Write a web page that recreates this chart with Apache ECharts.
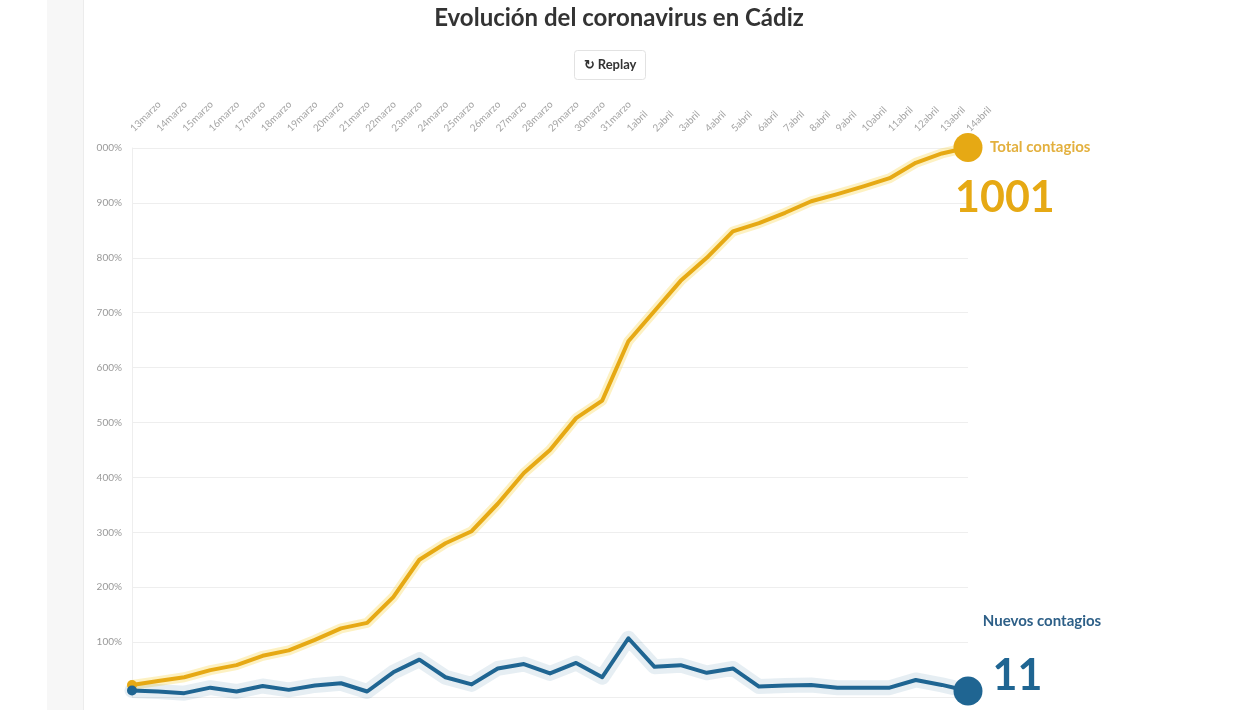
<!DOCTYPE html>
<html>
<head>
<meta charset="utf-8">
<script src="https://cdn.jsdelivr.net/npm/echarts@6/dist/echarts.min.js"></script>
<style>
html,body{margin:0;padding:0;background:#fff;}
#c{width:1248px;height:710px;}
</style>
</head>
<body>
<div id="c"></div>
<script>
const categories = ['13marzo','14marzo','15marzo','16marzo','17marzo','18marzo','19marzo','20marzo','21marzo','22marzo','23marzo','24marzo','25marzo','26marzo','27marzo','28marzo','29marzo','30marzo','31marzo','1abril','2abril','3abril','4abril','5abril','6abril','7abril','8abril','9abril','10abril','11abril','12abril','13abril','14abril'];
const totalContagios = [22,29,36,49,58,75,85,104,125,135,182,250,280,302,352,408,450,508,540,648,703,758,800,848,863,882,903,916,930,945,973,990,1001];
const nuevosContagios = [12,10,7,17,10,20,13,21,25,10,45,68,36,23,52,60,43,62,36,107,55,58,44,52,19,21,22,17,17,17,31,22,11];
const yTickLabels = ['','100%','200%','300%','400%','500%','600%','700%','800%','900%','000%'];

const YELLOW = '#e6a914';
const BLUE = '#1f6592';
const FONT = 'Lato, "Noto Sans", sans-serif';

function buildData(values, lastLabel) {
  const last = values.length - 1;
  return values.map((v, i) => {
    if (i === 0) return {value: v, symbol: 'circle', symbolSize: 10};
    if (i === last) return {value: v, symbol: 'circle', symbolSize: 29, label: lastLabel};
    return {value: v, symbol: 'circle', symbolSize: 0};
  });
}

const lastIdx = categories.length - 1;

const chart = echarts.init(document.getElementById('c'), null, {renderer: 'canvas'});
chart.setOption({
  animation: false,
  backgroundColor: '#fff',
  title: {
    text: 'Evolución del coronavirus en Cádiz',
    left: 614, top: 1, textAlign: 'center',
    textStyle: {fontFamily: FONT, fontSize: 24, fontWeight: 'bold', color: '#333'}
  },
  graphic: [
    {type: 'rect', shape: {x: 47, y: 0, width: 36, height: 710}, style: {fill: '#f7f7f7'}, silent: true, z: -10},
    {type: 'line', shape: {x1: 83.5, y1: 0, x2: 83.5, y2: 710}, style: {stroke: '#ececec', lineWidth: 1}, silent: true, z: -10},
    {type: 'group', left: 574, top: 50, children: [
      {type: 'rect', shape: {x: 0, y: 0, width: 71, height: 29, r: 3}, style: {fill: '#fff', stroke: '#e2e2e2', lineWidth: 1}},
      {type: 'text', x: 35.5, y: 14.5, style: {text: '↻ Replay', fill: '#333', font: 'bold 13px ' + FONT, align: 'center', verticalAlign: 'middle'}}
    ]}
  ],
  grid: {left: 132, right: 280, top: 148, bottom: 13, containLabel: false},
  xAxis: {
    type: 'category', data: categories, position: 'top', boundaryGap: false,
    axisLine: {show: false}, axisTick: {show: false},
    axisLabel: {interval: 0, rotate: 45, margin: 18, fontSize: 10, color: '#a5a5a5', fontFamily: FONT},
    splitLine: {show: false}
  },
  yAxis: {
    type: 'value', min: 0, max: 1000, interval: 100,
    axisLine: {show: true, lineStyle: {color: '#eeeeee'}}, axisTick: {show: false},
    axisLabel: {margin: 10, fontSize: 10, color: '#999', fontFamily: FONT,
      formatter: v => yTickLabels[Math.round(v / 100)] || ''},
    splitLine: {lineStyle: {color: '#eeeeee', width: 1}}
  },
  series: [
    {type: 'line', name: 'halo-total', data: totalContagios, symbol: 'none', silent: true, z: 1, clip: false,
      lineStyle: {width: 10, color: 'rgba(250,215,80,0.35)', cap: 'round', join: 'round'}},
    {type: 'line', name: 'halo-nuevos', data: nuevosContagios, symbol: 'none', silent: true, z: 1, clip: false,
      lineStyle: {width: 15, color: 'rgba(31,101,146,0.11)', cap: 'round', join: 'round'}},
    {type: 'line', name: 'Total contagios', z: 3, showAllSymbol: true, clip: false,
      data: buildData(totalContagios, {
        show: true, position: 'inside', align: 'left', verticalAlign: 'top', offset: [-13, -11],
        formatter: p => '{a|' + p.seriesName + '}\n{b|' + p.value + '}',
        rich: {
          a: {fontFamily: FONT, fontSize: 15, fontWeight: 'bold', color: '#e3b03e', lineHeight: 22, padding: [0, 0, 0, 35]},
          b: {fontFamily: FONT, fontSize: 43, fontWeight: 'bold', color: YELLOW, lineHeight: 80}
        }
      }),
      itemStyle: {color: YELLOW},
      lineStyle: {width: 4, color: YELLOW, join: 'round'}
    },
    {type: 'line', name: 'Nuevos contagios', z: 3, showAllSymbol: true, clip: false,
      data: buildData(nuevosContagios, {
        show: true, position: 'right', distance: 10, offset: [0, -15], formatter: '{c}',
        fontFamily: FONT, fontSize: 43, fontWeight: 'bold', color: BLUE
      }),
      itemStyle: {color: BLUE},
      lineStyle: {width: 4, color: BLUE, join: 'round'},
      markPoint: {
        symbol: 'circle', symbolSize: 1, itemStyle: {color: 'rgba(0,0,0,0)'},
        data: [{coord: [categories[lastIdx], nuevosContagios[lastIdx]], value: nuevosContagios[lastIdx]}],
        label: {show: true, position: 'inside', offset: [74, -70], formatter: '{a}',
          fontFamily: FONT, fontSize: 15, fontWeight: 'bold', color: '#2d5f87'}
      }
    }
  ]
});
</script>
</body>
</html>
